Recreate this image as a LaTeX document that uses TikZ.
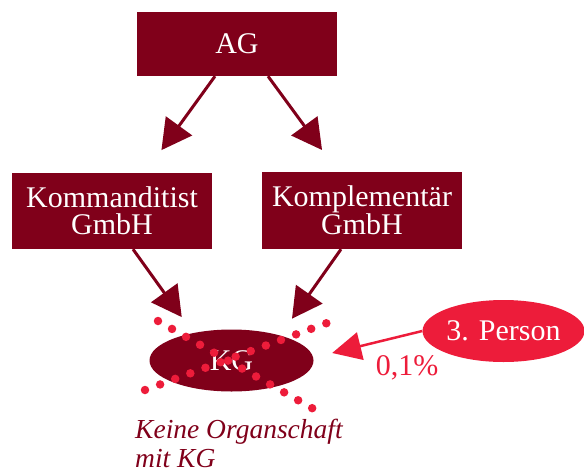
\documentclass[tikz,border=0pt]{standalone}
\usepackage{fontspec}
\setmainfont{Liberation Serif}
\usetikzlibrary{arrows.meta, positioning, shapes.geometric}
\definecolor{mydarkred}{RGB}{128, 0, 26}
\definecolor{mybrightred}{RGB}{237, 28, 58}

\begin{document}
\begin{tikzpicture}[x=1pt, y=-1pt,
    box/.style={rectangle, fill=mydarkred, text=white, inner sep=0pt, align=center, font=\fontsize{30}{27}\selectfont},
    arr/.style={-{Triangle[length=30pt, width=32pt]}, line width=3pt, mydarkred},
    dots/.style={mybrightred, line width=8.5pt, line cap=round, dash pattern=on 0pt off 16.1pt}]
    \useasboundingbox (0,0) rectangle (584,472);

    % Gesellschafter
    \node[box, minimum width=200pt, minimum height=64pt] (AG) at (237, 44) {AG};
    \node[box, minimum width=200pt, minimum height=76pt] (KD) at (112, 211) {Kommanditist\\GmbH};
    \node[box, minimum width=200pt, minimum height=77pt] (KP) at (362, 210.5) {Komplementär\\GmbH};
    \draw[arr, shorten >=28pt] ([xshift=-22pt]AG.south) -- ([xshift=33pt]KD.north);
    \draw[arr, shorten >=27pt] ([xshift=31pt]AG.south) -- ([xshift=-24pt]KP.north);

    % KG
    \node[ellipse, fill=mydarkred, text=white, inner sep=0pt, minimum width=164pt, minimum height=62pt,
        font=\fontsize{30}{27}\selectfont] (KG) at (231.5, 360.5) {KG};
    \draw[arr, shorten >=15pt] ([xshift=21pt]KD.south) -- ([xshift=-41pt]KG.north);
    \draw[arr, shorten >=13pt] ([xshift=-21pt]KP.south) -- ([xshift=53pt]KG.north);

    % durchgestrichen
    \coordinate (d1a) at (145, 390);
    \coordinate (d1b) at (327, 323);
    \coordinate (d2a) at (158, 321);
    \coordinate (d2b) at (326, 416);
    \draw[dots] (d1a) -- (d1b);
    \draw[dots] (d2a) -- (d2b);

    % 3. Person
    \node[ellipse, fill=mybrightred, text=white, inner sep=0pt, minimum width=162pt, minimum height=62pt,
        font=\fontsize{30}{27}\selectfont] (P3) at (503.5, 331) {3. Person};
    \draw[-{Triangle[length=29pt, width=28pt]}, line width=2.5pt, mybrightred, shorten >=19pt]
        (P3.west) -- ([yshift=3pt]KG.east);
    \node[anchor=base, text=mybrightred, font=\fontsize{30}{27}\selectfont] (anteil) at (407, 375) {0,1\%};

    % Hinweis
    \node[anchor=north west, inner sep=0pt, align=left, text=mydarkred,
        font=\fontsize{27.5}{29}\selectfont\itshape] (hinweis) at (135, 419) {Keine Organschaft\\mit KG};
\end{tikzpicture}
\end{document}
